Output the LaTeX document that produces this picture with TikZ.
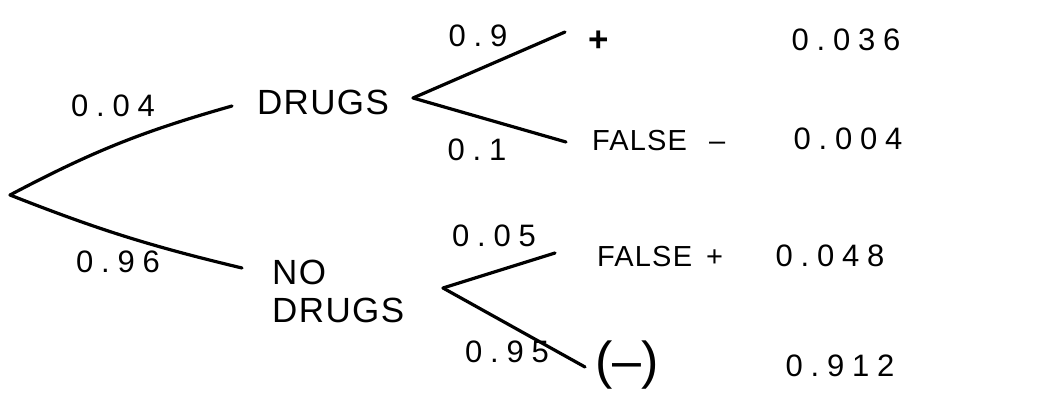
\documentclass[tikz,border=0pt]{standalone}
\usepackage{fontspec}
\setmainfont{Liberation Sans}
\newfontfamily\handnum[LetterSpace=25]{Liberation Sans}
\newfontfamily\handword[LetterSpace=4]{Liberation Sans}
\begin{document}
\begin{tikzpicture}[x=1pt,y=-1pt,
  edge/.style={line width=3.2pt,line cap=round},
  num/.style={inner sep=0pt,font=\handnum\fontsize{31}{34}\selectfont},
  word/.style={inner sep=0pt,font=\handword\fontsize{35}{38}\selectfont},
  smallword/.style={inner sep=0pt,font=\handword\fontsize{29}{32}\selectfont}]
\useasboundingbox (0,0) rectangle (1045,412);
% branch points and line ends
\coordinate (root) at (10,195);
\coordinate (dE) at (232,106);
\coordinate (nE) at (242,268);
\coordinate (dB) at (413,98);
\coordinate (pE) at (565,32);
\coordinate (fmE) at (566,142);
\coordinate (nB) at (443,288);
\coordinate (fpE) at (555,253);
\coordinate (negE) at (585,367);
% texts
\node[word] (drugs) at (323,102) {DRUGS};
\node[word,align=left,anchor=west] (nodrugs) at (272,291) {NO\\DRUGS};
\node[word] (plus) at (599,41) {\textbf{+}};
\node[smallword,anchor=west] (fminus) at (592,141) {FALSE\hspace{22pt}\textendash};
\node[smallword,anchor=west] (fplus) at (597,257) {FALSE\hspace{14pt}+};
\node[inner sep=0pt,font=\fontsize{52}{56}\selectfont] (neg) at (627,365) {(\textendash)};
\node[num] (p004) at (113,106) {0.04};
\node[num] (p096) at (118,262) {0.96};
\node[num] (p09) at (478,36) {0.9};
\node[num] (p01) at (477,150) {0.1};
\node[num] (p005) at (494,236) {0.05};
\node[num] (p095) at (507,352) {0.95};
\node[num] (r1) at (846,40) {0.036};
\node[num] (r2) at (848,139) {0.004};
\node[num] (r3) at (830,256) {0.048};
\node[num] (r4) at (840,366) {0.912};
% connectors
\draw[edge] (root) to[bend left=6] (dE);
\draw[edge] (root) to[bend right=4] (nE);
\draw[edge] (dB) -- (pE);
\draw[edge] (dB) -- (fmE);
\draw[edge] (nB) -- (fpE);
\draw[edge] (nB) -- (negE);
\end{tikzpicture}
\end{document}
